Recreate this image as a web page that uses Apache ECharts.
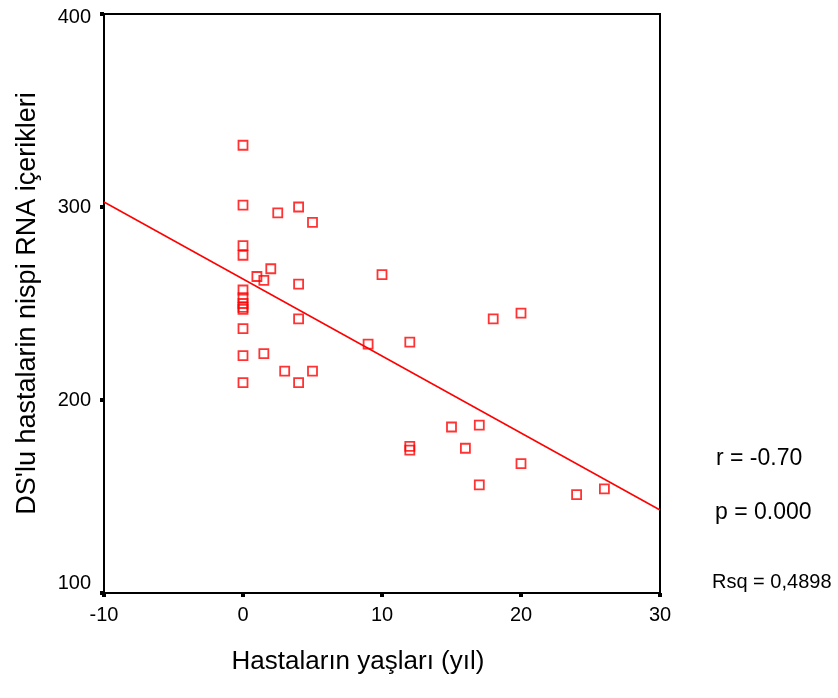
<!DOCTYPE html>
<html>
<head>
<meta charset="utf-8">
<script src="https://cdn.jsdelivr.net/npm/echarts@6/dist/echarts.min.js"></script>
<style>
  html, body { margin: 0; padding: 0; background: #fff; }
  #chart { width: 838px; height: 698px; }
</style>
</head>
<body>
<div id="chart"></div>
<script>
// Patient age (years) and relative RNA content
const ages = [
  0, 0, 2.5, 4, 5, 0, 0, 2, 1, 1.5, 4, 10,
  0, 0, 0, 0, 0, 0, 4, 9, 12, 0, 1.5, 3, 5, 0, 4,
  18, 20, 15, 17, 12, 12, 16, 20, 17, 24, 26
];
const rnaContent = [
  332, 301, 297, 300, 292, 280, 275, 268, 264, 262, 260, 265,
  257, 253, 250, 248, 247, 237, 242, 229, 230, 223, 224, 215, 215, 209, 209,
  242, 245, 186, 187, 176, 174, 175, 167, 156, 151, 154
];

// Fitted regression line end points
const fitAges = [-10, 30];
const fitValues = [302.6, 143];

// Axis ranges and ticks
const xTicks = [-10, 0, 10, 20, 30];
const yTicks = [100, 200, 300, 400];

// Statistics shown beside the plot
const statLabels = ['r = -0.70', 'p = 0.000', 'Rsq = 0,4898'];

const points = ages.map((a, i) => [a, rnaContent[i]]);
const fitLine = fitAges.map((a, i) => [a, fitValues[i]]);

const font = '"Liberation Sans", Arial, Helvetica, sans-serif';
const narrow = '"Liberation Sans Narrow", "Arial Narrow", "Liberation Sans", Arial, sans-serif';
const yMin = yTicks[0];
const yMax = yTicks[yTicks.length - 1];

const chart = echarts.init(document.getElementById('chart'), null, { renderer: 'canvas' });

chart.setOption({
  animation: false,
  backgroundColor: '#fff',
  grid: {
    left: 104, top: 14, right: 178, bottom: 105,
    show: true, borderColor: '#000', borderWidth: 2, backgroundColor: 'transparent'
  },
  xAxis: {
    type: 'value',
    min: xTicks[0], max: xTicks[xTicks.length - 1], interval: 10,
    name: 'Hastaların yaşları (yıl)',
    nameLocation: 'middle', nameGap: 56,
    nameTextStyle: { fontFamily: font, fontSize: 26, color: '#000', padding: [0, 48, 0, 0] },
    axisLine: { show: true, onZero: false, lineStyle: { color: '#000', width: 2 } },
    axisTick: { show: true, length: 4, lineStyle: { color: '#000', width: 4 } },
    axisLabel: { fontFamily: narrow, fontSize: 20, color: '#000', margin: 12 },
    splitLine: { show: false }
  },
  yAxis: {
    type: 'value',
    min: yMin, max: yMax, interval: 100,
    name: "DS'lu hastalarin nispi RNA içerikleri",
    nameLocation: 'middle', nameGap: 63,
    nameTextStyle: { fontFamily: font, fontSize: 27, color: '#000' },
    axisLine: { show: true, onZero: false, lineStyle: { color: '#000', width: 2 } },
    axisTick: { show: true, length: 4, lineStyle: { color: '#000', width: 4 } },
    axisLabel: {
      fontFamily: narrow, fontSize: 20, color: '#000', margin: 13,
      // lowest label sits above the corner, top label just below it
      formatter: v => v === yMin ? '{lo|' + v + '}' : (v === yMax ? '{hi|' + v + '}' : String(v)),
      rich: {
        lo: { fontFamily: narrow, fontSize: 20, color: '#000', padding: [0, 0, 20, 0] },
        hi: { fontFamily: narrow, fontSize: 20, color: '#000', padding: [7, 0, 0, 0] }
      }
    },
    splitLine: { show: false }
  },
  series: [
    {
      type: 'line',
      data: fitLine,
      showSymbol: false,
      symbol: 'none',
      lineStyle: { color: '#ff0000', width: 1.5 },
      z: 2
    },
    {
      type: 'scatter',
      data: points,
      symbol: 'rect',
      symbolSize: 9,
      itemStyle: { color: 'rgba(0,0,0,0)', borderColor: '#ff0000', borderWidth: 1.8 },
      z: 3
    }
  ],
  graphic: [
    { type: 'text', left: 716, top: 447, style: { text: statLabels[0], font: '23px ' + font, fill: '#000' } },
    { type: 'text', left: 715, top: 501, style: { text: statLabels[1], font: '23px ' + font, fill: '#000' } },
    { type: 'text', left: 712, top: 572, style: { text: statLabels[2], font: '20px ' + narrow, fill: '#000' } }
  ]
});
</script>
</body>
</html>
